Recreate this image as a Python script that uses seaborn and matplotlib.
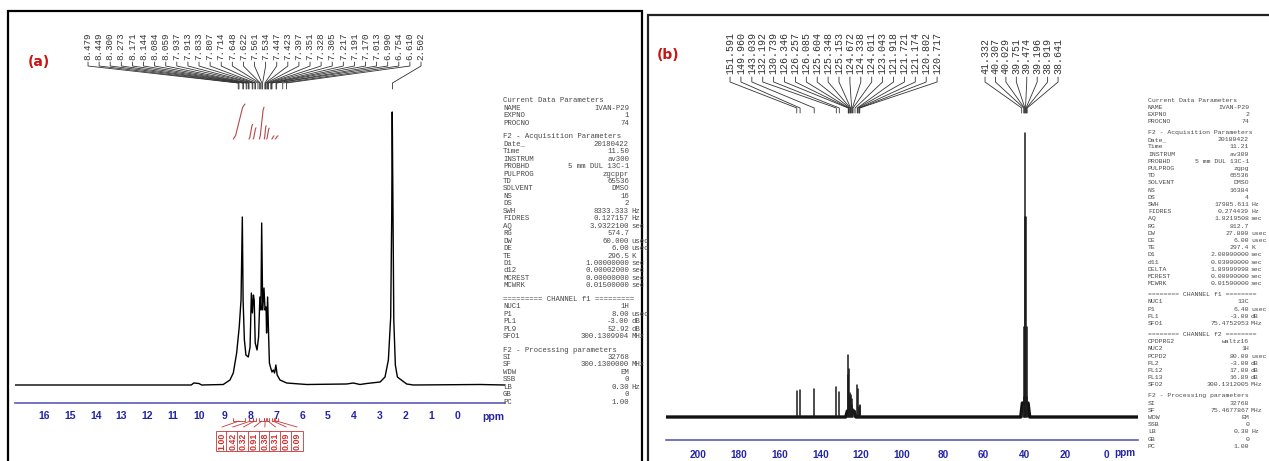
import numpy as np
import pandas as pd
import matplotlib
matplotlib.use("Agg")
import matplotlib.pyplot as plt
import seaborn as sns
from matplotlib.patches import Rectangle
from matplotlib.ticker import MultipleLocator

# ---------------- (a) 1H NMR data ----------------
h_ppm = [17.13, 10.74, 10.30, 10.20, 10.00, 9.90, 9.06, 8.80, 8.67, 8.54, 8.44, 8.37,
         8.32, 8.29, 8.24, 8.18, 8.09, 8.02, 7.97, 7.93, 7.89, 7.86, 7.82, 7.75, 7.69,
         7.64, 7.60, 7.57, 7.53, 7.48, 7.44, 7.40, 7.38, 7.34, 7.30, 7.27, 7.22, 7.17,
         7.12, 7.07, 7.02, 6.97, 6.86, 6.60, 5.83, 4.28, 4.02, 3.76, 3.50, 2.98, 2.79,
         2.66, 2.57, 2.53, 2.51, 2.48, 2.45, 2.39, 2.31, 2.21, 1.95, 1.69, -0.89, -1.86]
h_int = [0, 0, 0, 2, 1.5, 0, 0.5, 5, 12, 32, 58, 85,
         168, 85, 45, 30, 28, 38, 92, 72, 90, 85, 42, 35, 48,
         88, 75, 162, 75, 97, 75, 78, 52, 88, 48, 22, 17, 13,
         15, 12, 20, 10, 5, 2, 0.5, 1, 2, 0.5, 1.5, 3, 8,
         25, 68, 170, 273, 170, 65, 20, 8, 6, 1, 0, 0.5, 0]
h_peaks = [8.479, 8.449, 8.300, 8.273, 8.171, 8.144, 8.084, 8.059, 7.937, 7.913,
           7.833, 7.807, 7.714, 7.648, 7.622, 7.561, 7.534, 7.447, 7.423, 7.397,
           7.351, 7.328, 7.305, 7.217, 7.191, 7.170, 7.013, 6.990, 6.754, 6.610, 2.502]
int_start = [8.67, 8.06, 7.90, 7.66, 7.47, 7.38, 7.18, 7.05]
int_end = [8.22, 7.92, 7.79, 7.48, 7.40, 7.28, 7.09, 6.94]
int_vals = [1.00, 0.42, 0.32, 0.91, 0.38, 0.31, 0.09, 0.09]
h_ticks = list(range(16, -1, -1))

# ---------------- (b) 13C NMR data ----------------
c_peaks_arom = [151.591, 149.960, 143.039, 132.192, 130.739, 126.346, 126.257, 126.085,
                125.604, 125.348, 125.153, 124.672, 124.338, 124.011, 123.043, 121.918,
                121.721, 121.174, 120.802, 120.717]
c_int_arom = [26, 27, 28, 30, 25, 42, 62, 48, 24, 20, 22, 18, 12, 8, 6, 32, 28, 10, 12, 11]
c_peaks_dmso = [41.332, 40.307, 40.029, 39.751, 39.474, 39.196, 38.919, 38.641]
c_int_dmso = [8, 20, 90, 200, 284, 200, 90, 20]
c_base_ppm = [215.7, 127.6, 126.8, 123.6, 122.6, 41.8, 41.0, 38.2, 37.4, -15.7]
c_base_int = [0, 0, 6, 6, 0, 0, 14, 14, 0, 0]
c_ticks = list(range(200, -1, -20))

params_a = [
    ("Current Data Parameters",), ("NAME", "IVAN-P29", ""), ("EXPNO", "1", ""),
    ("PROCNO", "74", ""), None,
    ("F2 - Acquisition Parameters",), ("Date_", "20180422", ""), ("Time", "11.50", ""),
    ("INSTRUM", "av300", ""), ("PROBHD", "5 mm DUL 13C-1", ""), ("PULPROG", "zgcppr", ""),
    ("TD", "65536", ""), ("SOLVENT", "DMSO", ""), ("NS", "16", ""), ("DS", "2", ""),
    ("SWH", "8333.333", "Hz"), ("FIDRES", "0.127157", "Hz"), ("AQ", "3.9322100", "sec"),
    ("RG", "574.7", ""), ("DW", "60.000", "usec"), ("DE", "6.00", "usec"),
    ("TE", "296.5", "K"), ("D1", "1.00000000", "sec"), ("d12", "0.00002000", "sec"),
    ("MCREST", "0.00000000", "sec"), ("MCWRK", "0.01500000", "sec"), None,
    ("========= CHANNEL f1 =========",), ("NUC1", "1H", ""), ("P1", "8.00", "usec"),
    ("PL1", "-3.00", "dB"), ("PL9", "52.92", "dB"), ("SFO1", "300.1309904", "MHz"), None,
    ("F2 - Processing parameters",), ("SI", "32768", ""), ("SF", "300.1300000", "MHz"),
    ("WDW", "EM", ""), ("SSB", "0", ""), ("LB", "0.30", "Hz"), ("GB", "0", ""),
    ("PC", "1.00", ""),
]
params_b = [
    ("Current Data Parameters",), ("NAME", "IVAN-P29", ""), ("EXPNO", "2", ""),
    ("PROCNO", "74", ""), None,
    ("F2 - Acquisition Parameters",), ("Date_", "20180422", ""), ("Time", "11.21", ""),
    ("INSTRUM", "av300", ""), ("PROBHD", "5 mm DUL 13C-1", ""), ("PULPROG", "zgpg", ""),
    ("TD", "65536", ""), ("SOLVENT", "DMSO", ""), ("NS", "16384", ""), ("DS", "4", ""),
    ("SWH", "17985.611", "Hz"), ("FIDRES", "0.274439", "Hz"), ("AQ", "1.8219508", "sec"),
    ("RG", "812.7", ""), ("DW", "27.800", "usec"), ("DE", "6.00", "usec"),
    ("TE", "297.4", "K"), ("D1", "2.00000000", "sec"), ("d11", "0.03000000", "sec"),
    ("DELTA", "1.89999998", "sec"), ("MCREST", "0.00000000", "sec"),
    ("MCWRK", "0.01500000", "sec"), None,
    ("======== CHANNEL f1 ========",), ("NUC1", "13C", ""), ("P1", "6.40", "usec"),
    ("PL1", "-3.00", "dB"), ("SFO1", "75.4752953", "MHz"), None,
    ("======== CHANNEL f2 ========",), ("CPDPRG2", "waltz16", ""), ("NUC2", "1H", ""),
    ("PCPD2", "80.00", "usec"), ("PL2", "-3.00", "dB"), ("PL12", "17.00", "dB"),
    ("PL13", "16.89", "dB"), ("SFO2", "300.1312005", "MHz"), None,
    ("F2 - Processing parameters",), ("SI", "32768", ""), ("SF", "75.4677867", "MHz"),
    ("WDW", "EM", ""), ("SSB", "0", ""), ("LB", "0.30", "Hz"), ("GB", "0", ""),
    ("PC", "1.00", ""),
]

# ---------------- figure ----------------
sns.set_style("white")
plt.rcParams["font.family"] = ["Liberation Sans", "DejaVu Sans"]

W, H = 1269, 461
fig = plt.figure(figsize=(W / 100, H / 100), dpi=100)
fig.patch.set_facecolor("white")

AX_COL = "#5b5bb5"
TICK_COL = "#2424a8"
RED = "#cc3333"
MONO = "Liberation Mono"
TXT = "#4a4a4a"


def px_axes(x0, y0, x1, y1):
    return fig.add_axes([x0 / W, 1 - y1 / H, (x1 - x0) / W, (y1 - y0) / H])


def style_axis(ax, spine_y):
    ax.set_facecolor("none")
    for s in ("top", "left", "right"):
        ax.spines[s].set_visible(False)
    ax.spines["bottom"].set_position(("data", spine_y))
    ax.spines["bottom"].set_color(AX_COL)
    ax.spines["bottom"].set_linewidth(1.2)
    ax.yaxis.set_visible(False)
    ax.set_xlabel("")
    ax.set_ylabel("")


# panel borders
fig.add_artist(Rectangle((8 / W, 1 - 475 / H), (642 - 8) / W, (475 - 11) / H,
                         transform=fig.transFigure, fill=False, ec="black", lw=1.6))
fig.add_artist(Rectangle((648 / W, 1 - 475 / H), (1290 - 648) / W, (475 - 15) / H,
                         transform=fig.transFigure, fill=False, ec="#222222", lw=1.6))

# ---------- panel (a) ----------
axA = px_axes(15, 12, 505, 461)
sns.lineplot(x=h_ppm, y=h_int, ax=axA, color="black", lw=1.0, sort=False, estimator=None)
style_axis(axA, -18)
axA.set_xlim(17.13, -1.86)
axA.set_ylim(-76, 373)
axA.set_xticks(h_ticks)
axA.set_xticklabels([str(t) for t in h_ticks])
axA.xaxis.set_minor_locator(MultipleLocator(0.2))
axA.tick_params(axis="x", which="major", direction="inout", length=5, width=0.8,
                color=AX_COL, labelcolor=TICK_COL, labelsize=7.5, pad=3.5)
axA.tick_params(axis="x", which="minor", direction="in", length=2.5, width=0.6, color=AX_COL)
for lab in axA.get_xticklabels():
    lab.set_fontweight("bold")
axA.text(-1.40, -32, "ppm", ha="center", va="center", color=TICK_COL,
         fontsize=7.5, fontweight="bold")

# peak labels and leaders
lab_x = np.linspace(14.30, 1.395, len(h_peaks))
for lx, p in zip(lab_x, h_peaks):
    axA.plot([lx, lx, p, p], [323, 319, 302, 296], color="#333333", lw=0.6)
    axA.text(lx, 325, f"{p:.3f}", rotation=90, ha="center", va="bottom",
             fontsize=6.7, family=MONO, color="#333333")

# integral curves
for s, e, v in zip(int_start, int_end, int_vals):
    hgt = v * 35
    xs = [s, s + 0.2 * (e - s), s + 0.8 * (e - s), e]
    ys = [246, 246 + 0.1 * hgt, 246 + 0.9 * hgt, 246 + hgt]
    axA.plot(xs, ys, color="#b5484a", lw=0.8)

# integral labels below the axis
lab_ix = np.linspace(9.11, 6.20, len(int_vals))
for lx, s, e, v in zip(lab_ix, int_start, int_end, int_vals):
    axA.plot([s, s, e, e], [-33, -36, -36, -33], color=RED, lw=0.6)
    axA.plot([(s + e) / 2, lx], [-36, -42], color=RED, lw=0.6)
    axA.text(lx, -56, f"{v:.2f}", rotation=90, ha="center", va="center", fontsize=6.4,
             color=RED, fontweight="bold",
             bbox=dict(boxstyle="square,pad=0.2", fc="white", ec=RED, lw=0.6))

# ---------- panel (b) ----------
axB = px_axes(666, 15, 1138, 461)
sns.lineplot(x=c_base_ppm, y=c_base_int, ax=axB, color="#111111", lw=2.4,
             sort=False, estimator=None)
all_p = c_peaks_arom + c_peaks_dmso
all_i = c_int_arom + c_int_dmso
rows = []
for k, (p, h) in enumerate(zip(all_p, all_i)):
    rows.append((k, p, 0.0))
    rows.append((k, p, float(h)))
sticks = pd.DataFrame(rows, columns=["peak", "ppm", "int"])
sns.lineplot(data=sticks, x="ppm", y="int", units="peak", estimator=None, sort=False,
             color="#1a1a1a", lw=1.1, ax=axB, legend=False)
style_axis(axB, -23)
axB.set_xlim(215.69, -15.69)
axB.set_ylim(-44, 402)
axB.set_xticks(c_ticks)
axB.set_xticklabels([str(t) for t in c_ticks])
axB.xaxis.set_minor_locator(MultipleLocator(10))
axB.tick_params(axis="x", which="major", direction="out", length=4, width=0.8,
                color=AX_COL, labelcolor=TICK_COL, labelsize=7.2, pad=3)
axB.tick_params(axis="x", which="minor", direction="in", length=2.5, width=0.8, color=AX_COL)
for lab in axB.get_xticklabels():
    lab.set_fontweight("bold")
axB.text(-9.0, -36, "ppm", ha="center", va="center", color=TICK_COL,
         fontsize=7.2, fontweight="bold")

for peaks, (l0, l1) in ((c_peaks_arom, (184.3, 82.8)), (c_peaks_dmso, (59.3, 23.5))):
    for lx, p in zip(np.linspace(l0, l1, len(peaks)), peaks):
        axB.plot([lx, lx, p, p], [340, 335, 309, 304], color="#333333", lw=0.6)
        axB.text(lx, 343, f"{p:.3f}", rotation=90, ha="center", va="bottom",
                 fontsize=7.2, family=MONO, color="#333333")

# ---------- panel labels ----------
fig.text(39 / W, 1 - 62 / H, "(a)", color="#cc1111", fontsize=10, fontweight="bold",
         ha="center", va="center", family="DejaVu Sans")
fig.text(668 / W, 1 - 55 / H, "(b)", color="#cc1111", fontsize=10, fontweight="bold",
         ha="center", va="center", family="DejaVu Sans")


# ---------- acquisition parameter blocks ----------
def param_block(rows_, x_key, x_val, x_unit, y0, step, gap, fs):
    y = y0
    kw = dict(family=MONO, fontsize=fs, color=TXT, va="center")
    for r in rows_:
        if r is None:
            y += gap - step
            continue
        yf = 1 - y / H
        if len(r) == 1:
            fig.text(x_key / W, yf, r[0], ha="left", **kw)
        else:
            fig.text(x_key / W, yf, r[0], ha="left", **kw)
            fig.text(x_val / W, yf, r[1], ha="right", **kw)
            if r[2]:
                fig.text(x_unit / W, yf, r[2], ha="left", **kw)
        y += step


param_block(params_a, 503, 629, 631, 101, 7.45, 13.5, 5.3)
param_block(params_b, 1148, 1249, 1251, 100, 7.2, 11, 4.65)

fig.savefig("out.png", dpi=100, facecolor="white")
